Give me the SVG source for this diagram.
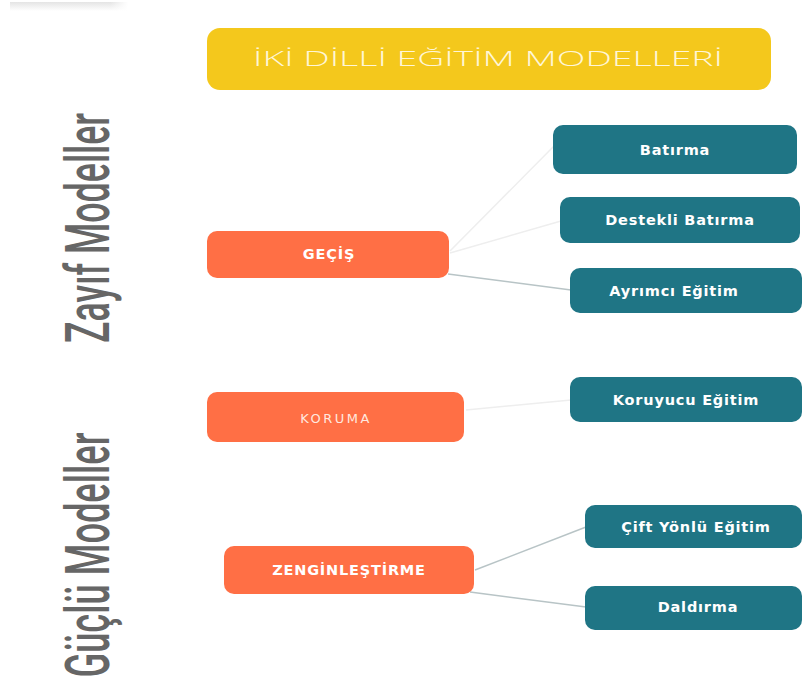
<svg xmlns="http://www.w3.org/2000/svg" width="804" height="682" viewBox="0 0 804 682">
<defs>
<linearGradient id="topbar" x1="0" y1="0" x2="0" y2="1">
<stop offset="0" stop-color="#e4e4e4"/>
<stop offset="1" stop-color="#ffffff"/>
</linearGradient>
<linearGradient id="topbarh" x1="0" y1="0" x2="1" y2="0">
<stop offset="0" stop-color="#ffffff" stop-opacity="0"/>
<stop offset="0.85" stop-color="#ffffff" stop-opacity="0"/>
<stop offset="1" stop-color="#ffffff" stop-opacity="1"/>
</linearGradient>
</defs>
<style>
.side{font-family:Roboto,"Liberation Sans",sans-serif;font-weight:500;font-size:62px;fill:#666666;}
.title{font-family:"Open Sans","DejaVu Sans",sans-serif;font-weight:300;font-size:20px;fill:#fff6d6;text-anchor:middle;}
.cat{fill:#ff6f45;}
.sub{fill:#1f7585;}
.lbl{font-family:"DejaVu Sans",sans-serif;font-weight:bold;font-size:14.5px;letter-spacing:0.8px;fill:#ffffff;text-anchor:middle;}
.lbl2{font-family:"DejaVu Sans",sans-serif;font-size:13px;letter-spacing:2.5px;fill:#ffe8df;text-anchor:middle;}
.faint{stroke:#eeeeee;stroke-width:1.5;fill:none;}
.mid{stroke:#b8c4c6;stroke-width:1.5;fill:none;}
</style>
<rect width="804" height="682" fill="#ffffff"/>
<rect x="10" y="2" width="118" height="9" fill="url(#topbar)"/>
<rect x="10" y="2" width="118" height="9" fill="url(#topbarh)"/>

<text class="side" transform="translate(109,228) rotate(-90)" text-anchor="middle" textLength="230" lengthAdjust="spacingAndGlyphs">Zayıf Modeller</text>
<text class="side" transform="translate(109,555) rotate(-90)" text-anchor="middle" textLength="245" lengthAdjust="spacingAndGlyphs">Güçlü Modeller</text>

<g id="connectors">
<line class="faint" x1="450" y1="251" x2="554" y2="146"/>
<line class="faint" x1="450" y1="253" x2="561" y2="221"/>
<line class="mid" x1="448" y1="274" x2="571" y2="290"/>
<line class="faint" x1="466" y1="410" x2="571" y2="400"/>
<line class="mid" x1="475" y1="570" x2="586" y2="527"/>
<line class="mid" x1="470" y1="592" x2="586" y2="607"/>
</g>

<g id="title">
<rect x="207" y="28" width="564" height="62" rx="13" fill="#f4c81c"/>
<text class="title" x="488" y="66" textLength="470" lengthAdjust="spacingAndGlyphs">İKİ DİLLİ EĞİTİM MODELLERİ</text>
</g>

<g id="gecis">
<rect class="cat" x="207" y="231" width="242" height="47" rx="10"/>
<text class="lbl" x="329" y="259" letter-spacing="1.5">GEÇİŞ</text>
</g>
<g id="batirma">
<rect class="sub" x="553" y="125" width="244" height="49" rx="10"/>
<text class="lbl" x="675" y="155">Batırma</text>
</g>
<g id="destekli">
<rect class="sub" x="560" y="197" width="240" height="46" rx="10"/>
<text class="lbl" x="680" y="225">Destekli Batırma</text>
</g>
<g id="ayrimci">
<rect class="sub" x="570" y="268" width="232" height="45" rx="10"/>
<text class="lbl" x="674" y="296">Ayrımcı Eğitim</text>
</g>

<g id="koruma">
<rect class="cat" x="207" y="392" width="257" height="50" rx="10"/>
<text class="lbl2" x="336" y="423">KORUMA</text>
</g>
<g id="koruyucu">
<rect class="sub" x="570" y="377" width="232" height="45" rx="10"/>
<text class="lbl" x="686" y="405">Koruyucu Eğitim</text>
</g>

<g id="zenginlestirme">
<rect class="cat" x="224" y="546" width="250" height="48" rx="10"/>
<text class="lbl" x="349" y="575">ZENGİNLEŞTİRME</text>
</g>
<g id="cift">
<rect class="sub" x="585" y="505" width="217" height="43" rx="10"/>
<text class="lbl" x="696" y="532">Çift Yönlü Eğitim</text>
</g>
<g id="daldirma">
<rect class="sub" x="585" y="586" width="217" height="44" rx="10"/>
<text class="lbl" x="698" y="612">Daldırma</text>
</g>
</svg>
